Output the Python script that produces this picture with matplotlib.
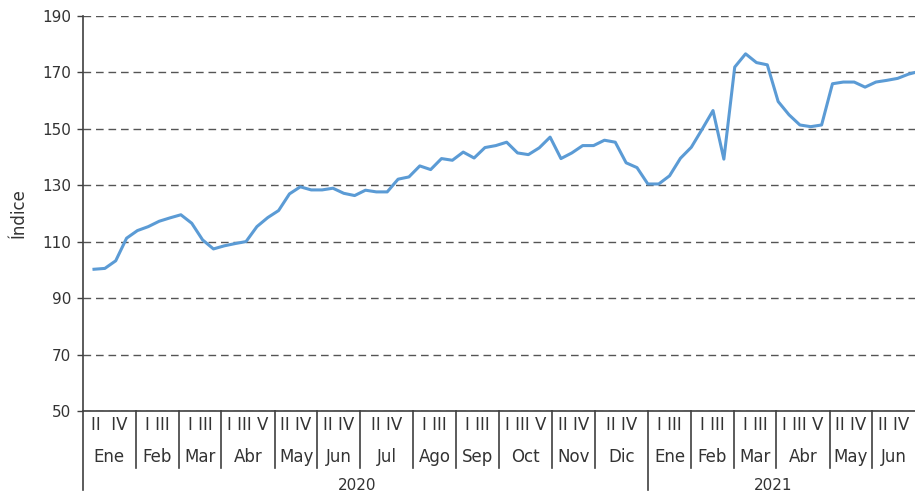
import matplotlib.pyplot as plt
from matplotlib.transforms import blended_transform_factory

# weekly index values (Ene 2020 week II onward)
indice = [100.2, 100.5, 103.2, 111.2, 113.9, 115.3, 117.2, 118.4, 119.5, 116.5,
          110.6, 107.4, 108.5, 109.3, 110.0, 115.3, 118.5, 121.0, 126.9, 129.4,
          128.3, 128.3, 128.9, 127.1, 126.3, 128.2, 127.6, 127.6, 132.1, 132.9,
          136.8, 135.5, 139.4, 138.8, 141.7, 139.6, 143.3, 144.0, 145.2, 141.4,
          140.8, 143.2, 147.0, 139.4, 141.4, 144.0, 144.0, 145.9, 145.2, 137.9,
          136.2, 130.4, 130.4, 133.3, 139.5, 143.4, 149.8, 156.4, 139.2, 171.8,
          176.5, 173.4, 172.6, 159.6, 154.9, 151.3, 150.7, 151.3, 165.9, 166.5,
          166.5, 164.7, 166.5, 167.1, 167.8, 169.3, 170.3]

meses = ["Ene", "Feb", "Mar", "Abr", "May", "Jun", "Jul", "Ago", "Sep", "Oct",
         "Nov", "Dic", "Ene", "Feb", "Mar", "Abr", "May", "Jun"]
semanas = ["II  IV", "I III", "I III", "I III V", "II IV", "II IV", "II IV",
           "I III", "I III", "I III V", "II IV", "II IV", "I III", "I III",
           "I III", "I III V", "II IV", "II IV"]
n_semanas = [5, 4, 4, 5, 4, 4, 5, 4, 4, 5, 4, 5, 4, 4, 4, 5, 4, 4]
anios = ["2020", "2021"]
meses_por_anio = [12, 6]

yticks = list(range(50, 191, 20))

fig = plt.figure(figsize=(9.15, 4.96), dpi=100)
W, H = 915, 496
ax = fig.add_axes([82.7 / W, (H - 411) / H, (W - 82.7) / W, (411 - 15.7) / H])

ax.plot(range(len(indice)), indice, color='#5b9bd5', lw=2.2, solid_joinstyle='round')
ax.set_xlim(-1.04, 75.6)
ax.set_ylim(50, 190)
ax.set_yticks(yticks)
ax.set_xticks([])
ax.set_axisbelow(True)
ax.grid(axis='y', ls=(0, (5.5, 3.5)), color='#555555', lw=1.0)

for s in ['top', 'right']:
    ax.spines[s].set_visible(False)
for s in ['left', 'bottom']:
    ax.spines[s].set_color('#404040')
    ax.spines[s].set_linewidth(1.2)
ax.tick_params(axis='y', length=4.5, width=1, color='#404040', pad=4,
               labelsize=11, labelcolor='#333333')

ax.set_ylabel("Índice", fontsize=12, color='#333333')
ax.yaxis.set_label_coords((28 - 82.7) / (W - 82.7), 0.5)

# category table under the plot
tr = blended_transform_factory(ax.transAxes, fig.transFigure)
fy = lambda py: 1 - py / H
total = sum(n_semanas)
edges = [0]
for n in n_semanas:
    edges.append(edges[-1] + n)

for i, (m, w) in enumerate(zip(meses, semanas)):
    cx = (edges[i] + edges[i + 1]) / 2 / total
    ax.text(cx, fy(425), w, transform=tr, ha='center', va='center',
            fontsize=12, color='#333333')
    ax.text(cx, fy(457), m, transform=tr, ha='center', va='center',
            fontsize=12, color='#333333')

year_edges = [0, edges[meses_por_anio[0]], edges[-1]]
for k in range(1, len(meses)):
    x = edges[k] / total
    bottom = 490 if edges[k] in year_edges else 468
    ax.plot([x, x], [fy(411), fy(bottom)], transform=tr, color='#404040',
            lw=1.2, clip_on=False)
ax.plot([0, 0], [fy(411), fy(490)], transform=tr, color='#404040', lw=1.2,
        clip_on=False)

# year labels sit a little left of their span centres in the original
for j, a in enumerate(anios):
    cx = (year_edges[j] + year_edges[j + 1]) / 2 / total - 0.01
    ax.text(cx, fy(486), a, transform=tr, ha='center', va='center',
            fontsize=11, color='#333333')

plt.savefig('out.png', dpi=100)
